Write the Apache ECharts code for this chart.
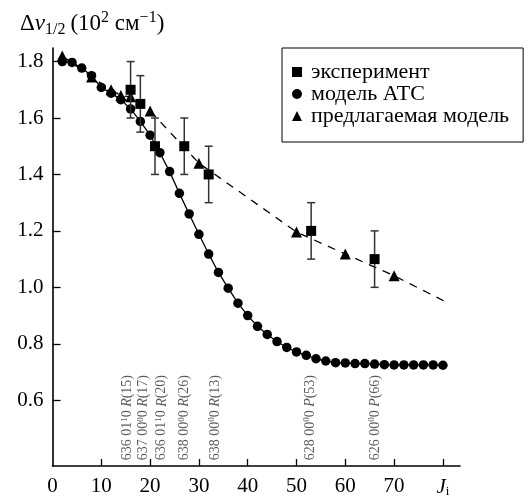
<!DOCTYPE html>
<html>
<head>
<meta charset="utf-8">
<script src="https://cdn.jsdelivr.net/npm/echarts@6/dist/echarts.min.js"></script>
<style>
  html, body { margin: 0; padding: 0; background: #fff; }
  #chart { width: 531px; height: 498px; }
</style>
</head>
<body>
<div id="chart"></div>
<script>
const FONT = '"Liberation Serif", "DejaVu Serif", serif'

// модель АТС
const atcJ = [2, 4, 6, 8, 10, 12, 14, 16, 18, 20, 22, 24, 26, 28, 30, 32, 34, 36, 38, 40,
  42, 44, 46, 48, 50, 52, 54, 56, 58, 60, 62, 64, 66, 68, 70, 72, 74, 76, 78, 80]
const atcValue = [1.80, 1.797, 1.777, 1.75, 1.708, 1.688, 1.665, 1.632, 1.588, 1.539,
  1.477, 1.41, 1.333, 1.26, 1.188, 1.118, 1.053, 0.997, 0.944, 0.90,
  0.862, 0.833, 0.808, 0.787, 0.771, 0.759, 0.747, 0.739, 0.733, 0.732,
  0.730, 0.730, 0.728, 0.726, 0.725, 0.725, 0.725, 0.725, 0.725, 0.724]

// предлагаемая модель (последняя точка — продолжение штриховой кривой)
const propJ = [2, 8, 12, 14, 16, 20, 30, 50, 60, 70]
const propValue = [1.82, 1.745, 1.70, 1.68, 1.675, 1.625, 1.44, 1.196, 1.118, 1.041]
const propTailJ = [81]
const propTailValue = [0.945]

// эксперимент
const expJ = [16, 18, 21, 27, 32, 53, 66]
const expValue = [1.70, 1.65, 1.50, 1.50, 1.40, 1.20, 1.10]
const expErr = [0.1, 0.1, 0.1, 0.1, 0.1, 0.1, 0.1]

// подписи переходов
const bandJ = [15.4, 18.7, 22.4, 27.1, 33.4, 52.8, 66.1]
const bandText = [
  '636 01{s|1}0 {i|R}(15)',
  '637 00{s|0}0 {i|R}(17)',
  '636 01{s|1}0 {i|R}(20)',
  '638 00{s|0}0 {i|R}(26)',
  '638 00{s|0}0 {i|R}(13)',
  '628 00{s|0}0 {i|P}(53)',
  '626 00{s|0}0 {i|P}(66)'
]
const bandBase = 0.387

const xTicks = [10, 20, 30, 40, 50, 60, 70, 80]
const xLabels = [0, 10, 20, 30, 40, 50, 60, 70, 80]
const yTicks = [0.6, 0.8, 1.0, 1.2, 1.4, 1.6, 1.8]

const chart = echarts.init(document.getElementById('chart'))

const zip = (xs, ys) => xs.map((x, i) => [x, ys[i]])

const option = {
  animation: false,
  title: {
    text: '{g|Δ}{it|ν}{sub|1/2} {g|(10}{sup|2}{g| см}{sup|−1}{g|)}',
    left: 15,
    top: 5,
    textStyle: {
      fontWeight: 'normal',
      rich: {
        g: { fontFamily: FONT, fontSize: 23, fontWeight: 'normal', color: '#000', lineHeight: 28 },
        it: { fontFamily: FONT, fontSize: 23, fontWeight: 'normal', fontStyle: 'italic', color: '#000', lineHeight: 28 },
        sub: { fontFamily: FONT, fontSize: 16, fontWeight: 'normal', color: '#000', verticalAlign: 'bottom', lineHeight: 15 },
        sup: { fontFamily: FONT, fontSize: 16, fontWeight: 'normal', color: '#000', verticalAlign: 'top', lineHeight: 16 }
      }
    }
  },
  legend: {
    orient: 'vertical',
    left: 282,
    top: 48,
    padding: [13, 14, 15, 10],
    itemGap: 0,
    itemWidth: 10,
    itemHeight: 10,
    borderColor: '#000',
    borderWidth: 1,
    textStyle: { fontFamily: FONT, fontSize: 22, color: '#000', padding: [0, 0, 0, 4] },
    data: [
      { name: 'эксперимент', icon: 'rect', itemStyle: { opacity: 1 } },
      { name: 'модель АТС', icon: 'circle' },
      { name: 'предлагаемая модель', icon: 'triangle' }
    ]
  },
  grid: { left: 52.5, right: 71, top: 48, bottom: 30.3 },
  xAxis: {
    type: 'value',
    min: 0,
    max: 83.5,
    splitLine: { show: false },
    axisLine: { lineStyle: { color: '#000', width: 1.6 } },
    axisTick: { inside: true, length: 7, customValues: xTicks, lineStyle: { color: '#000', width: 1.3 } },
    axisLabel: {
      customValues: xLabels,
      margin: 10,
      fontFamily: FONT,
      fontSize: 21,
      color: '#000',
      formatter: v => v === 80 ? '{i|J}{sub|i}' : String(v),
      rich: {
        i: { fontFamily: FONT, fontSize: 21, fontStyle: 'italic', color: '#000', lineHeight: 22 },
        sub: { fontFamily: FONT, fontSize: 13, color: '#000', verticalAlign: 'bottom', lineHeight: 14 }
      }
    }
  },
  yAxis: {
    type: 'value',
    min: 0.367,
    max: 1.848,
    splitLine: { show: false },
    axisLine: { lineStyle: { color: '#000', width: 1.6 } },
    axisTick: { inside: true, length: 8, customValues: yTicks, lineStyle: { color: '#000', width: 1.3 } },
    axisLabel: {
      customValues: yTicks,
      margin: 9,
      fontFamily: FONT,
      fontSize: 21,
      color: '#000',
      formatter: v => v.toFixed(1)
    }
  },
  series: [
    {
      name: 'модель АТС',
      type: 'line',
      data: zip(atcJ, atcValue),
      symbol: 'circle',
      symbolSize: 9.5,
      itemStyle: { color: '#000' },
      lineStyle: { color: '#000', width: 1.3 },
      z: 3
    },
    {
      name: 'предлагаемая модель',
      type: 'line',
      data: zip(propJ, propValue).concat(zip(propTailJ, propTailValue).map(p => ({ value: p, symbol: 'none' }))),
      symbol: 'triangle',
      symbolSize: 11,
      itemStyle: { color: '#000' },
      lineStyle: { color: '#000', width: 1.3, type: [8, 7] },
      z: 4
    },
    {
      name: 'errors',
      type: 'custom',
      data: expJ.map((j, i) => [j, expValue[i] - expErr[i], expValue[i] + expErr[i]]),
      renderItem: (params, api) => {
        const lo = api.coord([api.value(0), api.value(1)])
        const hi = api.coord([api.value(0), api.value(2)])
        const w = 4
        const style = { stroke: '#333', lineWidth: 1.5 }
        return {
          type: 'group',
          children: [
            { type: 'line', shape: { x1: lo[0], y1: lo[1], x2: hi[0], y2: hi[1] }, style },
            { type: 'line', shape: { x1: lo[0] - w, y1: lo[1], x2: lo[0] + w, y2: lo[1] }, style },
            { type: 'line', shape: { x1: hi[0] - w, y1: hi[1], x2: hi[0] + w, y2: hi[1] }, style }
          ]
        }
      },
      z: 5
    },
    {
      name: 'эксперимент',
      type: 'scatter',
      data: zip(expJ, expValue),
      symbol: 'rect',
      symbolSize: 10,
      itemStyle: { color: '#000', opacity: 1 },
      z: 6
    },
    {
      name: 'bands',
      type: 'scatter',
      data: bandJ.map((j, i) => ({ value: [j, bandBase], label: { formatter: bandText[i] } })),
      symbolSize: 0,
      silent: true,
      label: {
        show: true,
        position: [0, 0],
        rotate: 90,
        align: 'left',
        verticalAlign: 'middle',
        fontFamily: FONT,
        fontSize: 14,
        color: '#333',
        rich: {
          s: { fontFamily: FONT, fontSize: 9, color: '#333', verticalAlign: 'top', lineHeight: 10 },
          i: { fontFamily: FONT, fontSize: 14, fontStyle: 'italic', color: '#333', lineHeight: 16 }
        }
      }
    }
  ]
}

chart.setOption(option)
window.addEventListener('resize', () => chart.resize())
</script>
</body>
</html>
